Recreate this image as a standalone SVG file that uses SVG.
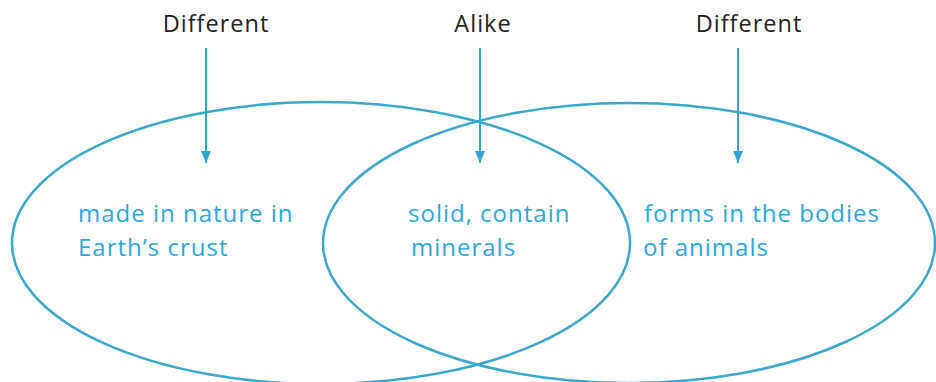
<svg xmlns="http://www.w3.org/2000/svg" width="936" height="382" viewBox="0 0 936 382">
<defs>
<style>
.ell{fill:none;stroke:#3aa7cf;stroke-width:2.5}
.lbl{font-family:"Open Sans","Noto Sans",sans-serif;font-size:23.5px;letter-spacing:1px;fill:#222;text-anchor:middle}
.txt{font-family:"Open Sans","Noto Sans",sans-serif;font-size:24px;letter-spacing:1px;fill:#2aa8e0}
.arr{stroke:#2fa6d6;stroke-width:2;fill:none}
</style>
<marker id="ah" viewBox="0 0 12 10" refX="12" refY="5" markerWidth="12" markerHeight="10" markerUnits="userSpaceOnUse" orient="auto">
<path d="M0,0 L12,5 L0,10 Z" fill="#2fa6d6"/>
</marker>
</defs>
<rect width="936" height="382" fill="#fff"/>
<g id="left-set"><ellipse class="ell" cx="321" cy="243" rx="309" ry="141"/>
<text class="txt" x="78" y="222">made in nature in</text>
<text class="txt" x="78" y="256">Earth’s crust</text></g>
<g id="right-set"><ellipse class="ell" cx="629" cy="243" rx="306" ry="140"/>
<text class="txt" x="644" y="222">forms in the bodies</text>
<text class="txt" x="643" y="256">of animals</text></g>
<g id="overlap">
<text class="txt" x="408" y="222">solid, contain</text>
<text class="txt" x="411" y="256">minerals</text></g>
<g id="label-left"><text class="lbl" x="216" y="32">Different</text></g>
<g id="label-mid"><text class="lbl" x="483" y="32">Alike</text></g>
<g id="label-right"><text class="lbl" x="749" y="32">Different</text></g>
<g id="connectors">
<line class="arr" x1="206" y1="48" x2="206" y2="163" marker-end="url(#ah)"/>
<line class="arr" x1="480" y1="48" x2="480" y2="163" marker-end="url(#ah)"/>
<line class="arr" x1="738" y1="48" x2="738" y2="163" marker-end="url(#ah)"/>
</g>
</svg>
